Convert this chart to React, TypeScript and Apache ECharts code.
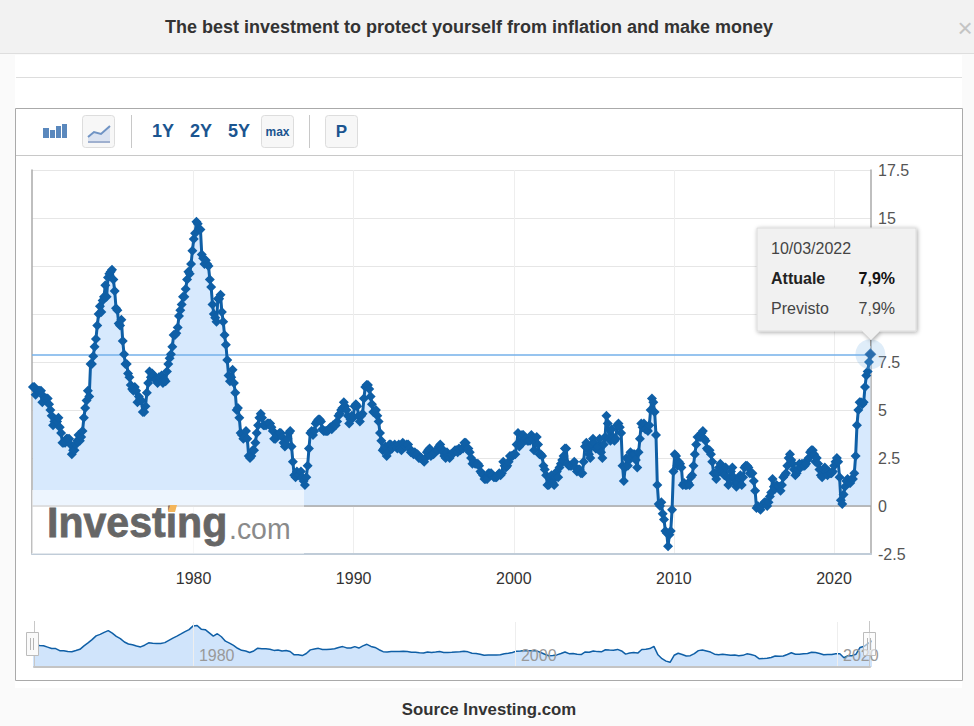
import React, { useEffect, useRef } from "react";
import * as echarts from "echarts";

const cpi1970s = [
  6.2,6.2,5.8,6.0,6.0,6.0,6.0,5.4,5.7,5.6,5.6,5.6,
  5.3,5.0,4.7,4.2,4.4,4.5,4.4,4.6,4.1,3.8,3.3,3.3,
  3.3,3.5,3.5,3.5,3.2,2.7,2.9,2.9,3.2,3.4,3.7,3.4,
  3.6,3.9,4.6,5.1,5.5,6.0,5.7,7.4,7.4,7.8,8.3,8.7,
  9.4,10.0,10.4,10.1,10.7,10.9,11.5,10.9,11.9,12.1,12.2,12.3,
  11.8,11.2,10.3,10.2,9.5,9.4,9.7,8.6,7.9,7.4,7.4,6.9,
  6.7,6.3,6.1,6.0,6.2,6.0,5.4,5.7,5.5,5.5,4.9,4.9,
  5.2,5.9,6.4,7.0,6.7,6.9,6.8,6.6,6.6,6.4,6.7,6.7,
  6.8,6.4,6.6,6.5,7.0,7.4,7.7,7.9,8.3,8.9,8.9,9.0,
  9.3,9.9,10.2,10.5,10.9,10.9,11.3,11.8,12.2,12.1,12.6,13.3,
];
const cpi1980s = [
  13.9,14.2,14.8,14.7,14.4,14.4,13.1,12.9,12.6,12.8,12.6,12.5,
  11.8,11.4,10.5,10.0,9.8,9.6,10.8,10.8,11.0,10.1,9.6,8.9,
  8.4,7.6,6.8,6.5,6.7,7.1,6.4,5.9,5.0,5.1,4.6,3.8,
  3.7,3.5,3.6,3.9,3.5,2.6,2.5,2.6,2.9,2.9,3.3,3.8,
  4.2,4.6,4.8,4.6,4.2,4.2,4.2,4.3,4.3,4.3,4.1,3.9,
  3.5,3.5,3.7,3.7,3.8,3.8,3.6,3.3,3.1,3.2,3.5,3.8,
  3.9,3.1,2.3,1.6,1.5,1.8,1.6,1.6,1.8,1.5,1.3,1.1,
  1.5,2.1,3.0,3.8,3.9,3.7,3.9,4.3,4.4,4.5,4.5,4.4,
  4.0,3.9,3.9,3.9,3.9,4.0,4.1,4.0,4.2,4.2,4.2,4.4,
  4.7,4.8,5.0,5.1,5.4,5.2,5.0,4.7,4.3,4.5,4.7,4.6,
];
const cpi1990s = [
  5.2,5.3,5.2,4.7,4.4,4.7,4.8,5.6,6.2,6.3,6.3,6.1,
  5.7,5.3,4.9,4.9,5.0,4.7,4.4,3.8,3.4,2.9,3.0,3.1,
  2.6,2.8,3.2,3.2,3.0,3.1,3.2,3.1,3.0,3.2,3.0,2.9,
  3.3,3.2,3.1,3.2,3.2,3.0,2.8,2.8,2.7,2.8,2.7,2.7,
  2.5,2.5,2.5,2.4,2.3,2.5,2.8,2.9,3.0,2.6,2.7,2.7,
  2.8,2.9,2.9,3.1,3.2,3.0,2.8,2.6,2.5,2.8,2.6,2.5,
  2.7,2.7,2.8,2.9,2.9,2.8,3.0,2.9,3.0,3.0,3.3,3.3,
  3.0,3.0,2.8,2.5,2.2,2.3,2.2,2.2,2.2,2.1,1.8,1.7,
  1.6,1.4,1.4,1.4,1.7,1.7,1.7,1.6,1.5,1.5,1.5,1.6,
  1.7,1.6,1.7,2.3,2.1,2.0,2.1,2.3,2.6,2.6,2.6,2.7,
];
const cpi2000s = [
  2.7,3.2,3.8,3.1,3.2,3.7,3.7,3.4,3.5,3.4,3.4,3.4,
  3.7,3.5,2.9,3.3,3.6,3.2,2.7,2.7,2.6,2.1,1.9,1.6,
  1.1,1.1,1.5,1.6,1.2,1.1,1.5,1.8,1.5,2.0,2.2,2.4,
  2.6,3.0,3.0,2.2,2.1,2.1,2.1,2.2,2.3,2.0,1.8,1.9,
  1.9,1.7,1.7,2.3,3.1,3.3,3.0,2.7,2.5,3.2,3.5,3.3,
  3.0,3.0,3.1,3.5,2.8,2.5,3.2,3.6,4.7,4.3,3.5,3.4,
  4.0,3.6,3.4,3.5,4.2,4.3,4.1,3.8,2.1,1.3,2.0,2.5,
  2.1,2.4,2.8,2.6,2.7,2.7,2.4,2.0,2.8,3.5,4.3,4.1,
  4.3,4.0,4.0,3.9,4.2,5.0,5.6,5.4,4.9,3.7,1.1,0.1,
  0.0,0.2,-0.4,-0.7,-1.3,-1.4,-2.1,-1.5,-1.3,-0.2,1.8,2.7,
];
const cpi2010s = [
  2.6,2.1,2.3,2.2,2.0,1.1,1.2,1.1,1.1,1.2,1.1,1.5,
  1.6,2.1,2.7,3.2,3.6,3.6,3.6,3.8,3.9,3.5,3.4,3.0,
  2.9,2.9,2.7,2.3,1.7,1.7,1.4,1.7,2.0,2.2,1.8,1.7,
  1.6,2.0,1.5,1.1,1.4,1.8,2.0,1.5,1.2,1.0,1.2,1.5,
  1.6,1.1,1.5,2.0,2.1,2.1,2.0,1.7,1.7,1.7,1.3,0.8,
  -0.1,0.0,-0.1,-0.2,0.0,0.1,0.2,0.2,0.0,0.2,0.5,0.7,
  1.4,1.0,0.9,1.1,1.0,1.0,0.8,1.1,1.5,1.6,1.7,2.1,
  2.5,2.7,2.4,2.2,1.9,1.6,1.7,1.9,2.2,2.0,2.2,2.1,
  2.1,2.2,2.4,2.5,2.8,2.9,2.9,2.7,2.3,2.5,2.2,1.9,
  1.6,1.5,1.9,2.0,1.8,1.6,1.8,1.7,1.7,1.8,2.1,2.3,
];
const cpi2020s = [
  2.5,2.3,1.5,0.3,0.1,0.6,1.0,1.3,1.4,1.2,1.2,1.4,
  1.4,1.7,2.6,4.2,5.0,5.4,5.4,5.3,5.4,6.2,6.8,7.0,
  7.5,7.9,
];
const yearTicks = [1980, 1990, 2000, 2010, 2020];
const navYearTicks = [1980, 2000, 2020];
// 12.5 and 10 sit behind the tooltip in the reference
const visibleYLabels = [-2.5, 0, 2.5, 5, 7.5, 15, 17.5];
const titleText = "The best investment to protect yourself from inflation and make money";
const sourceText = "Source Investing.com";
const rangeButtons = ["1Y", "2Y", "5Y"];

const FONT = '"Liberation Sans", Arial, sans-serif';
const allValues = [...cpi1970s, ...cpi1980s, ...cpi1990s, ...cpi2000s, ...cpi2010s, ...cpi2020s];
const firstDate = 1969.97;
const lastDate = 2022.27;
const mainData = allValues.map((v, i) => [firstDate + (i * (lastDate - firstDate)) / (allValues.length - 1), v]);
const areaData = mainData.map(([x, v]) => [x, Math.max(0, v)]);
const lastPoint = mainData[mainData.length - 1];
const navData: number[][] = [];
for (let i = 0; i < mainData.length; i += 3) {
  const g = mainData.slice(i, i + 3);
  navData.push([g[0][0], g.reduce((s, p) => s + p[1], 0) / g.length]);
}
navData.push(lastPoint);

const txt = (text: string, x: number, y: number, font: string, fill: string, align = "left", z = 30, extra: any = {}, styleExtra: any = {}) => ({
  type: "text", z, silent: true, ...extra,
  style: { text, x, y, font: `${font} ${FONT}`, fill, align, verticalAlign: "middle", ...styleExtra },
});
const rect = (x: number, y: number, w: number, h: number, style: any, z = 1, r = 0) => ({
  type: "rect", z, silent: true, shape: { x, y, width: w, height: h, r }, style,
});
const line = (x1: number, y1: number, x2: number, y2: number, stroke: string, lineWidth = 1, z = 2) => ({
  type: "line", z, silent: true, shape: { x1, y1, x2, y2 }, style: { stroke, lineWidth },
});
const button = (x: number, y: number) =>
  rect(x + 0.5, y + 0.5, 32, 32, { fill: "#f7f7f7", stroke: "#dddddd", lineWidth: 1 }, 2, 3);

const graphics: any[] = [
  rect(0, 0, 974, 53, { fill: "#f2f2f2" }, 0),
  line(0, 53.5, 974, 53.5, "#dedede", 1, 1),
  rect(15, 55, 947, 633, { fill: "#ffffff" }, 0),
  line(16, 77.5, 962, 77.5, "#dddddd"),
  rect(15.5, 108.5, 947, 572, { fill: "transparent", stroke: "#aaaaaa", lineWidth: 1 }, 1),
  line(16, 155.5, 962, 155.5, "#c8c8c8"),
  line(131.5, 115, 131.5, 148, "#c8c8c8"),
  line(309.5, 115, 309.5, 148, "#c8c8c8"),
  txt(titleText, 469, 27, "bold 18px", "#333333", "center"),
  txt("×", 965, 28, "26px", "#c4c4c4", "center"),
  txt(sourceText, 489, 709, "bold 16.8px", "#333333", "center"),
  rect(43, 128, 6, 10, { fill: "#5a88bd" }, 3),
  rect(50, 130, 5, 8, { fill: "#5a88bd" }, 3),
  rect(56, 126, 5, 12, { fill: "#5a88bd" }, 3),
  rect(62, 124, 5, 14, { fill: "#5a88bd" }, 3),
  button(82, 115),
  { type: "polygon", z: 3, silent: true, shape: { points: [[88, 141], [88, 137], [94, 132], [101, 134], [110, 126], [110, 141]] }, style: { fill: "#dbe3f1" } },
  { type: "polyline", z: 3, silent: true, shape: { points: [[88, 137], [94, 132], [101, 134], [110, 126]] }, style: { stroke: "#6f93c4", lineWidth: 2, fill: "none" } },
  line(88, 142, 110, 142, "#9fb0cf", 2, 3),
  ...rangeButtons.map((t, i) => txt(t, 163 + i * 38, 131, "bold 18px", "#1b5590", "center")),
  button(261, 115),
  txt("max", 277.5, 132, "bold 12px", "#1b5590", "center"),
  button(325, 115),
  txt("P", 341.5, 131, "bold 17px", "#1b5590", "center"),
  // watermark
  rect(32, 490, 272, 64, { fill: "rgba(255,255,255,0.55)" }, 10),
  txt("Investing", 47, 522, "bold 43px", "#666666", "left", 11, { scaleX: 0.955, originX: 47, originY: 522 }, { stroke: "#666666", lineWidth: 0.8 }),
  txt(".com", 229, 529, "29px", "#8a8a8a", "left", 11, { scaleX: 0.98, originX: 229, originY: 529 }),
  { type: "polygon", z: 12, silent: true, shape: { points: [[168, 512], [170, 505], [177, 505], [175, 512]] }, style: { fill: "#f4b55a" } },
  // tooltip
  line(870.5, 331, 870.5, 346, "#999999", 1, 40),
  {
    type: "polygon", z: 41, silent: true,
    shape: { points: [[757, 228], [916, 228], [916, 331], [880, 331], [871, 340], [862, 331], [757, 331]] },
    style: { fill: "#f1f1f1", stroke: "#dcdcdc", lineWidth: 1, shadowBlur: 4, shadowColor: "rgba(0,0,0,0.35)", shadowOffsetX: 1, shadowOffsetY: 1 },
  },
  txt("10/03/2022", 771, 248, "16px", "#444444", "left", 42),
  txt("Attuale", 771, 278, "bold 16px", "#222222", "left", 42),
  txt("7,9%", 895, 278, "bold 16px", "#111111", "right", 42),
  txt("Previsto", 771, 308, "16px", "#444444", "left", 42),
  txt("7,9%", 895, 308, "16px", "#444444", "right", 42),
  // navigator handles
  rect(26.5, 632.5, 12, 23, { fill: "#fafafa", stroke: "#bcbcbc", lineWidth: 1 }, 20),
  line(30.5, 638, 30.5, 650, "#b5b5b5", 1, 21),
  line(33.5, 638, 33.5, 650, "#b5b5b5", 1, 21),
  rect(863.5, 632.5, 12, 23, { fill: "rgba(250,250,250,0.6)", stroke: "#bcbcbc", lineWidth: 1 }, 20),
  line(867.5, 638, 867.5, 650, "#b5b5b5", 1, 21),
  line(870.5, 638, 870.5, 650, "#b5b5b5", 1, 21),
  line(34.5, 621, 34.5, 667, "#c8c8c8", 1, 6),
  line(869.5, 621, 869.5, 667, "#c8c8c8", 1, 6),
];

export default function App() {
  const ref = useRef<HTMLDivElement>(null);
  useEffect(() => {
    const chart = echarts.init(ref.current!, null, { renderer: "svg" });
    chart.setOption({
      animation: false,
      backgroundColor: "#fafafa",
      graphic: { elements: graphics },
      grid: [
        { left: 32, top: 170, width: 839, height: 384, show: true, borderColor: "#e4e4e4", borderWidth: 1, backgroundColor: "transparent" },
        { left: 34, top: 622, width: 836, height: 45 },
      ],
      xAxis: [
        {
          type: "value", gridIndex: 0, min: 1969.91, max: 2022.31,
          axisLine: { onZero: false, show: true, lineStyle: { color: "#c0ccd8", width: 2 } },
          axisTick: { show: false, customValues: yearTicks },
          axisLabel: { customValues: yearTicks, formatter: (v: number) => String(v), fontSize: 16, fontFamily: FONT, color: "#333333", margin: 16 },
          splitLine: { show: true, lineStyle: { color: "#eeeeee", width: 1 } },
        },
        {
          type: "value", gridIndex: 1, min: 1970.13, max: 2022.05, z: 8,
          axisLine: { onZero: false, show: true, lineStyle: { color: "#c4c4c4", width: 2 } },
          axisTick: { show: false, customValues: navYearTicks },
          axisLabel: {
            customValues: navYearTicks, formatter: (v: number) => String(v), inside: true, align: "left",
            padding: [0, 0, 0, 6], margin: 4, fontSize: 16, fontFamily: FONT, color: "#999999",
          },
          splitLine: { show: true, lineStyle: { color: "#eeeeee", width: 1 } },
        },
      ],
      yAxis: [
        {
          type: "value", gridIndex: 0, position: "right", min: -2.5, max: 17.5, interval: 2.5,
          axisLine: { show: true, lineStyle: { color: "#aaaaaa", width: 1.5 } },
          axisTick: { show: false },
          axisLabel: { customValues: visibleYLabels, fontSize: 16, fontFamily: FONT, color: "#555555", margin: 7 },
          splitLine: { show: true, lineStyle: { color: "#e6e6e6", width: 1 } },
        },
        {
          type: "value", gridIndex: 0, position: "left", min: -2.5, max: 17.5, interval: 2.5,
          axisLine: { show: true, lineStyle: { color: "#aaaaaa", width: 1.5 } },
          axisTick: { show: false }, axisLabel: { show: false }, splitLine: { show: false },
        },
        { type: "value", gridIndex: 1, min: -3.7, max: 16, show: false, splitLine: { show: false } },
      ],
      series: [
        {
          type: "line", xAxisIndex: 0, yAxisIndex: 0, data: areaData, symbol: "none", z: 1,
          lineStyle: { width: 0 }, areaStyle: { color: "#d7e9fd", opacity: 1 },
          markLine: {
            silent: true, symbol: "none", label: { show: false }, z: 3,
            data: [
              { yAxis: 0, lineStyle: { color: "#a8a8a8", width: 1.5, type: "solid" } },
              { yAxis: lastPoint[1], lineStyle: { color: "#74b0ea", width: 1.5, type: "solid" } },
            ],
          },
        },
        {
          type: "line", xAxisIndex: 0, yAxisIndex: 0, data: mainData, clip: false, z: 4,
          symbol: "diamond", symbolSize: 10, showAllSymbol: true,
          lineStyle: { color: "#0f5fa6", width: 3 }, itemStyle: { color: "#0f5fa6" },
        },
        {
          type: "scatter", xAxisIndex: 0, yAxisIndex: 0, data: [lastPoint], clip: false, z: 5,
          symbol: "circle", symbolSize: 30, itemStyle: { color: "rgba(122,178,232,0.3)" }, silent: true,
        },
        {
          type: "scatter", xAxisIndex: 0, yAxisIndex: 0, data: [lastPoint], clip: false, z: 6,
          symbol: "diamond", symbolSize: 12, itemStyle: { color: "#2a6cab" }, silent: true,
        },
        {
          type: "line", xAxisIndex: 1, yAxisIndex: 2, data: navData, symbol: "none", z: 4,
          lineStyle: { color: "#0f5fa6", width: 1.5 }, areaStyle: { color: "#d0e4fb", opacity: 1, origin: "start" },
        },
      ],
    });
    return () => chart.dispose();
  }, []);
  return <div ref={ref} style={{ position: "absolute", left: 0, top: 0, width: 974, height: 726 }} />;
}
